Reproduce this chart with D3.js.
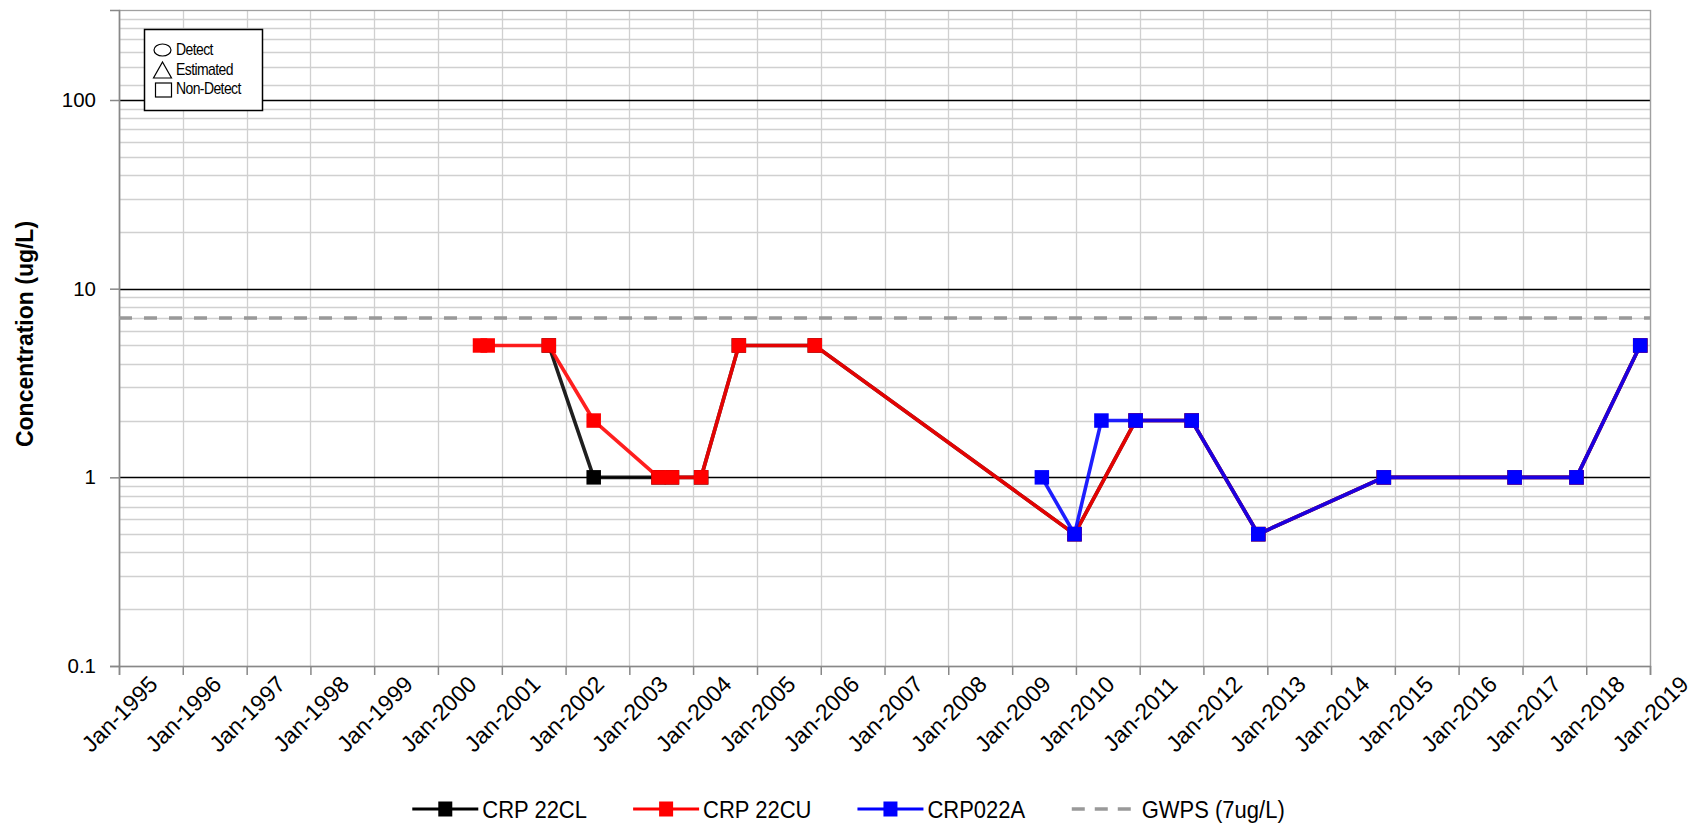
<!DOCTYPE html>
<html>
<head>
<meta charset="utf-8">
<script src="https://cdn.jsdelivr.net/npm/d3@7"></script>
<style>
  body { margin: 0; background: #fff; }
  text { font-family: Arial, "Liberation Sans", sans-serif; fill: #000; }
</style>
</head>
<body>
<svg id="chart" width="1697" height="828"></svg>
<script>
// --- Data ---
const seriesNames = ["CRP 22CL", "CRP 22CU", "CRP022A"];
const seriesColors = ["#000000", "#ff0000", "#0000ff"];

const datesCL  = ["2001-09-27", "2002-06-11", "2003-06-17", "2003-09-02", "2004-02-16", "2004-09-19", "2005-11-28",
                  "2009-12-24", "2010-12-09", "2011-10-26", "2012-11-10", "2014-10-30", "2016-11-17", "2017-11-06", "2018-11-06"];
const valuesCL = [5, 1, 1, 1, 1, 5, 5, 0.5, 2, 2, 0.5, 1, 1, 1, 5];

const datesCU  = ["2000-08-29", "2000-10-12", "2001-09-27", "2002-06-11", "2003-06-17", "2003-09-02", "2004-02-16",
                  "2004-09-19", "2005-11-28", "2009-12-24", "2010-12-09", "2011-10-26", "2012-11-10", "2014-10-30",
                  "2016-11-17", "2017-11-06", "2018-11-06"];
const valuesCU = [5, 5, 5, 2, 1, 1, 1, 5, 5, 0.5, 2, 2, 0.5, 1, 1, 1, 5];

const datesA   = ["2009-06-20", "2009-12-24", "2010-05-27", "2010-12-09", "2011-10-26", "2012-11-10", "2014-10-30",
                  "2016-11-17", "2017-11-06", "2018-11-06"];
const valuesA  = [1, 0.5, 2, 2, 2, 0.5, 1, 1, 1, 5];

const gwpsValue = 7;
const gwpsLabel = "GWPS (7ug/L)";

const yMajorTicks = [0.1, 1, 10, 100];
const yTickLabels = ["0.1", "1", "10", "100"];
const yMinorTicks = [0.2, 0.3, 0.4, 0.5, 0.6, 0.7, 0.8, 0.9,
                     2, 3, 4, 5, 6, 7, 8, 9,
                     20, 30, 40, 50, 60, 70, 80, 90,
                     120, 150, 180, 210, 240, 270];
const yDomain = [0.1, 300];
const xDomain = ["1995-01-01", "2019-01-01"];

const symbolLabels = ["Detect", "Estimated", "Non-Detect"];

// --- Layout ---
const svg = d3.select("#chart"),
  margin = { top: 10, right: 47, bottom: 162, left: 119 },
  width = +svg.attr("width") - margin.left - margin.right,
  height = +svg.attr("height") - margin.top - margin.bottom,
  g = svg.append("g").attr("transform", `translate(${margin.left},${margin.top})`);

const parseDate = d3.timeParse("%Y-%m-%d");

const x = d3.scaleTime().domain(xDomain.map(parseDate)).range([0, width]);
const y = d3.scaleLog().domain(yDomain).range([height, 0]);

const series = [
  { name: seriesNames[0], color: seriesColors[0], data: datesCL.map((d, i) => ({ date: parseDate(d), value: valuesCL[i] })) },
  { name: seriesNames[1], color: seriesColors[1], data: datesCU.map((d, i) => ({ date: parseDate(d), value: valuesCU[i] })) },
  { name: seriesNames[2], color: seriesColors[2], data: datesA.map((d, i) => ({ date: parseDate(d), value: valuesA[i] })) }
];

// --- Grid ---
const yearTicks = d3.timeYear.range(parseDate(xDomain[0]), d3.timeDay.offset(parseDate(xDomain[1]), 1));

g.append("g")
  .selectAll("line")
  .data(yMinorTicks)
  .join("line")
  .attr("x1", 0).attr("x2", width)
  .attr("y1", d => Math.round(y(d)) + 0.5).attr("y2", d => Math.round(y(d)) + 0.5)
  .attr("stroke", "#d0d0d0").attr("stroke-width", 1.3);

g.append("g")
  .selectAll("line")
  .data(yearTicks)
  .join("line")
  .attr("x1", d => Math.round(x(d)) + 0.5).attr("x2", d => Math.round(x(d)) + 0.5)
  .attr("y1", 0).attr("y2", height)
  .attr("stroke", "#d0d0d0").attr("stroke-width", 1.3);

g.append("g")
  .selectAll("line")
  .data(yMajorTicks.slice(1))
  .join("line")
  .attr("x1", 0).attr("x2", width)
  .attr("y1", d => Math.round(y(d)) + 0.5).attr("y2", d => Math.round(y(d)) + 0.5)
  .attr("stroke", "#000").attr("stroke-width", 1.3);

// plot frame
g.append("rect")
  .attr("x", 0.5).attr("y", 0.5)
  .attr("width", width).attr("height", height)
  .attr("fill", "none").attr("stroke", "#a0a0a0").attr("stroke-width", 1.3);

// --- Axes ---
const yAxis = g.append("g")
  .call(d3.axisLeft(y).tickValues(yMajorTicks).tickSize(9).tickPadding(14)
    .tickFormat((d, i) => yTickLabels[i]));
yAxis.select(".domain").attr("stroke", "#888").attr("stroke-width", 1.5);
yAxis.selectAll(".tick line").attr("stroke", "#888").attr("stroke-width", 1.5);
yAxis.selectAll(".tick text")
  .style("font-size", "20.5px").attr("fill", "#222");

const xAxis = g.append("g")
  .attr("transform", `translate(0,${height})`)
  .call(d3.axisBottom(x).tickValues(yearTicks).tickSize(9).tickFormat(d3.timeFormat("Jan-%Y")));
xAxis.select(".domain").attr("stroke", "#888").attr("stroke-width", 1.5);
xAxis.selectAll(".tick line").attr("stroke", "#888").attr("stroke-width", 1.5);
xAxis.selectAll(".tick text")
  .attr("y", 0).attr("dy", null)
  .attr("text-anchor", "middle")
  .attr("dominant-baseline", "central")
  .attr("transform", "translate(0,48) rotate(-45)")
  .style("font-size", "23px").attr("fill", "#222");

// y title
svg.append("text")
  .attr("transform", `translate(25,334) rotate(-90)`)
  .attr("text-anchor", "middle")
  .attr("dominant-baseline", "central")
  .style("font-size", "23px").style("font-weight", "bold")
  .text("Concentration (ug/L)");

// --- GWPS line ---
g.append("line")
  .attr("x1", 0).attr("x2", width)
  .attr("y1", y(gwpsValue)).attr("y2", y(gwpsValue))
  .attr("stroke", "#999").attr("stroke-width", 3.5)
  .attr("stroke-dasharray", "13,12");

// --- Series ---
const line = d3.line().x(d => x(d.date)).y(d => y(d.value));
const ms = 14.5;

series.forEach(s => {
  const sg = g.append("g");
  sg.append("path")
    .datum(s.data)
    .attr("d", line)
    .attr("fill", "none")
    .attr("stroke", s.color)
    .attr("stroke-opacity", 0.88)
    .attr("stroke-width", 3.6);
  sg.selectAll("rect")
    .data(s.data)
    .join("rect")
    .attr("x", d => x(d.date) - ms / 2)
    .attr("y", d => y(d.value) - ms / 2)
    .attr("width", ms).attr("height", ms)
    .attr("fill", s.color);
});

// --- Symbol key box (top left) ---
const key = svg.append("g").attr("transform", "translate(144,29)");
key.append("rect")
  .attr("x", 0.5).attr("y", 0.5).attr("width", 118).attr("height", 81)
  .attr("fill", "#fff").attr("stroke", "#000").attr("stroke-width", 1.5);
key.append("ellipse")
  .attr("cx", 18.5).attr("cy", 21).attr("rx", 8.5).attr("ry", 6)
  .attr("fill", "none").attr("stroke", "#000").attr("stroke-width", 1.2);
key.append("path")
  .attr("d", "M18.5,33 L27.5,49 L9.5,49 Z")
  .attr("fill", "none").attr("stroke", "#000").attr("stroke-width", 1.2);
key.append("rect")
  .attr("x", 11.5).attr("y", 54).attr("width", 16).attr("height", 14)
  .attr("fill", "none").attr("stroke", "#000").attr("stroke-width", 1.2);
key.selectAll("text.sym")
  .data(symbolLabels)
  .join("text")
  .attr("class", "sym")
  .attr("transform", (d, i) => `translate(32,${26 + i * 19.5}) scale(1,1.15)`)
  .style("font-size", "14px")
  .style("letter-spacing", "-0.6px")
  .text(d => d);

// --- Bottom legend ---
const legendItems = [
  { label: seriesNames[0], color: seriesColors[0], dash: null },
  { label: seriesNames[1], color: seriesColors[1], dash: null },
  { label: seriesNames[2], color: seriesColors[2], dash: null },
  { label: gwpsLabel, color: "#999", dash: "13,10" }
];
const legend = svg.append("g").attr("transform", "translate(0,809)");
const items = legend.selectAll("g")
  .data(legendItems)
  .join("g");
items.append("line")
  .attr("x1", 0).attr("x2", 66).attr("y1", 0).attr("y2", 0)
  .attr("stroke", d => d.color).attr("stroke-width", d => d.dash ? 3.5 : 3)
  .attr("stroke-dasharray", d => d.dash);
items.filter(d => !d.dash).append("rect")
  .attr("x", 26).attr("y", -7.5).attr("width", 14).attr("height", 15)
  .attr("fill", d => d.color);
items.append("text")
  .attr("transform", "translate(70,0) scale(1,1.1)")
  .attr("dy", "0.36em")
  .style("font-size", "22px")
  .text(d => d.label);

let cursor = 0;
const offsets = [];
items.each(function () {
  offsets.push(cursor);
  cursor += this.getBBox().width + 46;
});
const totalW = cursor - 46;
const startX = (+svg.attr("width") - totalW) / 2;
items.attr("transform", (d, i) => `translate(${startX + offsets[i]},0)`);
</script>
</body>
</html>
